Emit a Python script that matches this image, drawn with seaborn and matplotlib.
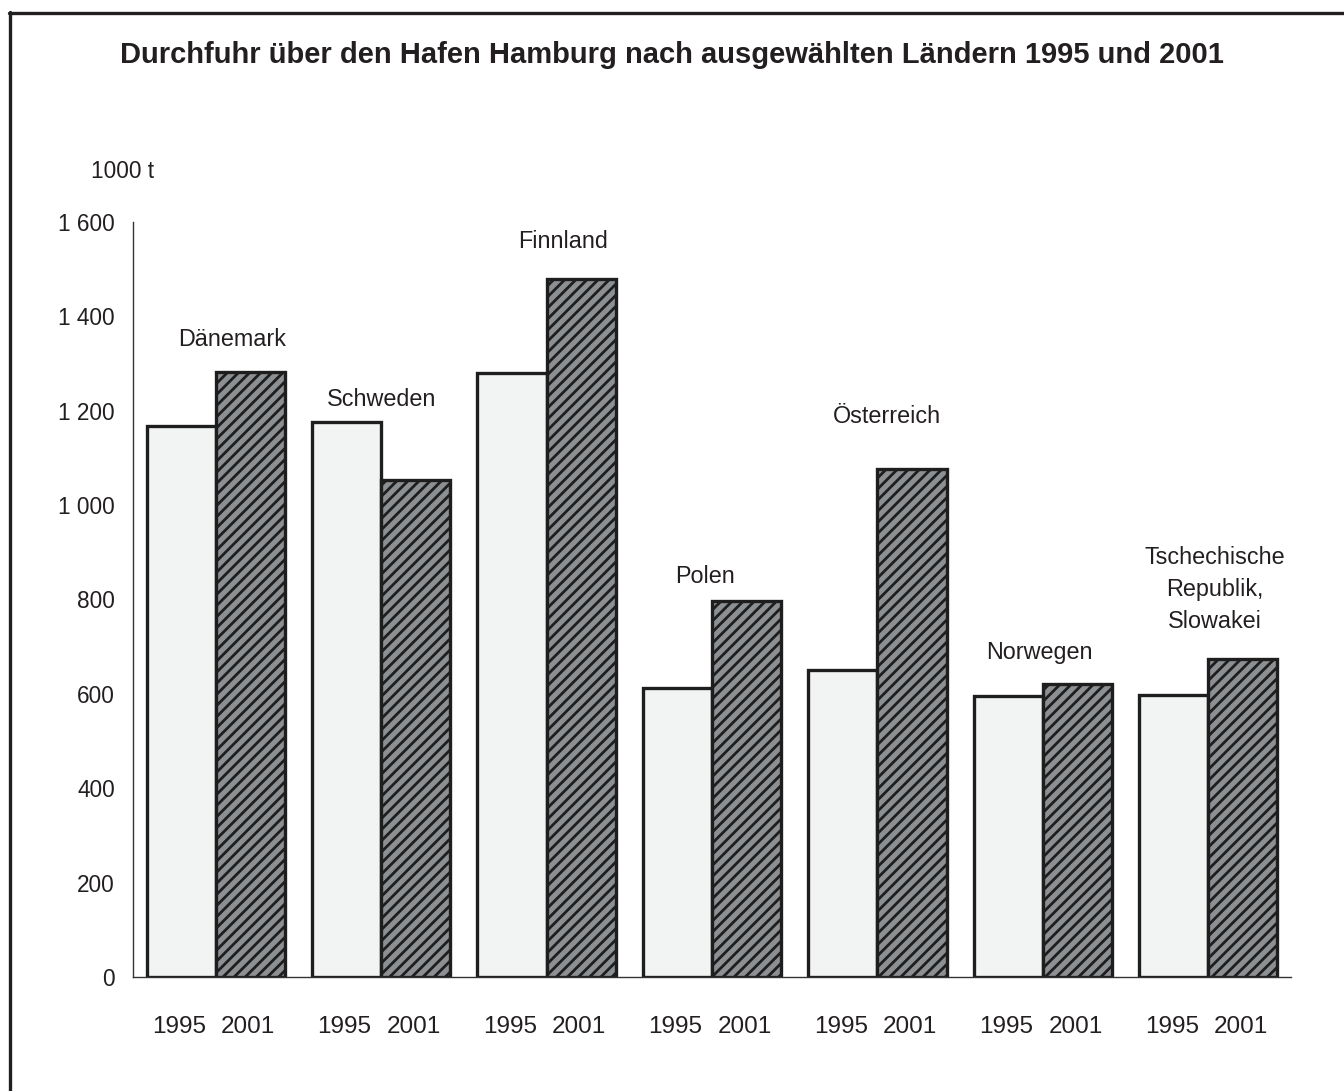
import matplotlib
matplotlib.use("Agg")
import matplotlib.pyplot as plt
import seaborn as sns
import pandas as pd
from matplotlib.lines import Line2D

countries = ["Dänemark", "Schweden", "Finnland", "Polen", "Österreich", "Norwegen",
             "Tschechische\nRepublik,\nSlowakei"]
years = ["1995", "2001"]
values_1995 = [1168, 1176, 1280, 612, 651, 595, 598]
values_2001 = [1282, 1053, 1479, 797, 1077, 621, 674]
label_y = [1352, 1223, 1559, 849, 1188, 688, 822]
label_dx = [0.10, 0.0, 0.10, -0.04, 0.06, -0.02, 0.04]
yticks = [0, 200, 400, 600, 800, 1000, 1200, 1400, 1600]
ytick_labels = ["0", "200", "400", "600", "800", "1 000", "1 200", "1 400", "1 600"]

df = pd.DataFrame({
    "country": countries * 2,
    "year": [years[0]] * len(countries) + [years[1]] * len(countries),
    "value": values_1995 + values_2001,
})

sns.set_theme(style="white")
plt.rcParams["font.family"] = ["Liberation Sans", "DejaVu Sans"]
plt.rcParams["hatch.linewidth"] = 2.0
plt.rcParams["hatch.color"] = "#2f2f2f"

fig = plt.figure(figsize=(13.44, 10.91), dpi=100)
ax = fig.add_axes([133 / 1344, 1 - 977 / 1091, (1291 - 133) / 1344, (977 - 222) / 1091])

sns.barplot(data=df, x="country", y="value", hue="year", order=countries, hue_order=years,
            palette={"1995": "#f2f4f3", "2001": "#8c9094"}, width=0.836, gap=0,
            edgecolor="#1e1e1e", linewidth=2.4, legend=False, ax=ax)

n = len(countries)
for i, p in enumerate(ax.patches[:2 * n]):
    if i >= n:
        p.set_hatch("///")
    yr = years[0] if i < n else years[1]
    ax.text(p.get_x() + p.get_width() / 2 - 2 / 165, -106, yr, ha="center", va="center",
            fontsize=17.5, color="#231f20")

for i, c in enumerate(countries):
    ax.text(i + label_dx[i], label_y[i], c, ha="center", va="center", fontsize=16.8,
            color="#231f20", linespacing=1.5)

ax.set_ylim(0, 1600)
ax.set_xlim(-0.5, n - 0.5)
ax.set_yticks(yticks)
ax.set_yticklabels(ytick_labels, fontsize=16.3, color="#231f20")
ax.set_xticks([i - 0.5 for i in range(n + 1)])
ax.set_xticklabels([])
ax.tick_params(axis="y", direction="out", length=6, width=1, color="#333333", pad=7)
ax.tick_params(axis="x", direction="out", length=6, width=1, color="#333333")
ax.set_xlabel("")
ax.set_ylabel("")
sns.despine(ax=ax)
for s in ["left", "bottom"]:
    ax.spines[s].set_color("#333333")
    ax.spines[s].set_linewidth(1)

fig.text(91 / 1344, 1 - 172 / 1091, "1000 t", fontsize=16.3, color="#231f20", va="center")
fig.text(672 / 1344, 1 - 55 / 1091, "Durchfuhr über den Hafen Hamburg nach ausgewählten Ländern 1995 und 2001",
         fontsize=21, fontweight="bold", ha="center", va="center", color="#231f20")

fig.add_artist(Line2D([10 / 1344, 10 / 1344], [0, 1 - 12 / 1091], transform=fig.transFigure,
                      color="#231f20", linewidth=2.4))
fig.add_artist(Line2D([8.5 / 1344, 1], [1 - 13 / 1091, 1 - 13 / 1091], transform=fig.transFigure,
                      color="#231f20", linewidth=2.4))

fig.savefig("out.png", dpi=100)
